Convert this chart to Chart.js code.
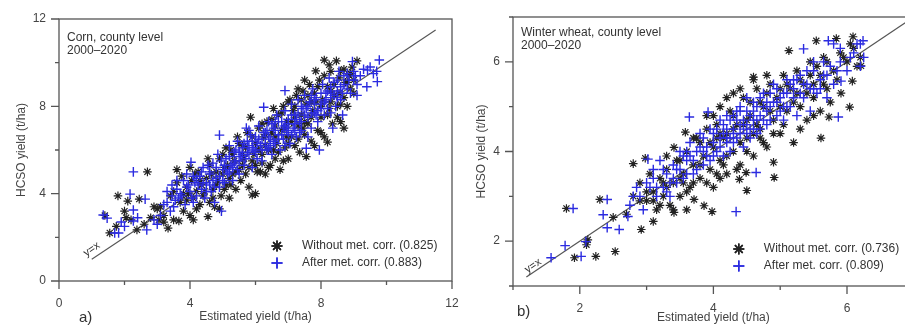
<!DOCTYPE html>
<html>
<head>
<meta charset="utf-8">
<script src="https://cdn.jsdelivr.net/npm/chart.js@4/dist/chart.umd.min.js"></script>
<style>
  html, body { margin: 0; padding: 0; background: #fff; overflow: hidden; }
  #wrap { position: relative; width: 905px; height: 325px; overflow: hidden; }
  canvas { position: absolute; top: 0; }
  #c1 { left: 0; }
  #c2 { left: 460px; }
</style>
</head>
<body>
<div id="wrap">
  <canvas id="c1" width="460" height="325"></canvas>
  <canvas id="c2" width="460" height="325"></canvas>
</div>
<script>
// ---- data (estimated yield, HCSO yield) in t/ha ----
const cornWithout = [
  [1.4,3.0],[1.55,2.2],[1.75,2.5],[1.8,3.9],[2.0,3.2],[2.05,2.9],[2.1,3.66],[2.2,2.8],[2.38,2.34],[2.45,3.75],
  [2.7,5.0],[2.8,2.9],[3.0,3.3],[3.05,2.8],[3.1,3.4],[3.2,2.7],[3.33,2.42],[3.4,3.9],[3.5,4.1],[3.6,5.1],
  [3.66,2.75],[3.6,4.5],[3.7,3.6],[3.75,4.8],[3.8,3.2],[3.9,4.3],[4.0,3.0],[4.05,4.6],[4.1,2.8],[4.1,3.8],
  [4.2,4.1],[4.25,5.0],[4.3,3.5],[4.35,4.4],[4.4,3.9],[4.5,4.7],[4.55,2.95],[4.6,3.6],[4.6,5.3],[4.7,4.2],
  [4.75,3.4],[4.8,5.0],[4.85,4.6],[4.9,5.6],[4.95,3.9],[5.0,4.9],[5.0,5.8],[5.1,4.4],[5.15,5.3],[5.2,3.8],
  [5.25,6.0],[5.3,4.9],[5.35,5.5],[5.4,4.2],[5.45,6.6],[5.5,5.1],[5.55,4.6],[5.6,6.2],[5.65,5.6],[5.7,4.9],
  [5.75,6.8],[5.8,4.3],[5.85,7.5],[5.9,3.94],[5.9,5.5],[6.0,6.3],[6.0,4.0],[6.05,5.0],[6.1,7.0],[6.2,5.8],
  [6.25,6.6],[6.3,4.9],[6.35,7.3],[6.4,6.0],[6.45,5.3],[6.5,6.8],[6.55,7.9],[6.6,5.6],[6.65,6.3],[6.7,7.6],
  [6.75,5.1],[6.8,6.9],[6.85,8.0],[6.9,6.1],[6.95,7.3],[7.0,5.6],[7.05,8.3],[7.1,6.6],[7.15,7.8],[7.2,6.2],
  [7.25,8.5],[7.3,7.1],[7.35,5.9],[7.4,7.6],[7.45,8.7],[7.5,6.7],[7.55,8.1],[7.6,7.2],[7.65,9.0],[7.7,6.4],
  [7.75,7.8],[7.8,8.6],[7.84,9.62],[7.9,6.9],[7.95,9.2],[8.0,7.5],[8.05,8.3],[8.1,10.12],[8.1,6.6],[8.2,6.36],
  [8.2,8.9],[8.25,7.9],[8.3,9.6],[8.35,7.2],[8.4,8.5],[8.47,10.08],[8.5,7.5],[8.55,9.3],[8.6,8.1],[8.7,9.7],
  [8.8,8.0],[8.86,9.44],[8.9,8.8],[9.0,9.2],[9.1,10.08],[9.0,8.6],
  [3.9,3.7],[4.0,5.2],[4.2,3.3],[4.3,4.6],[4.45,4.1],[4.55,5.6],[4.7,3.8],[4.8,4.4],[4.9,3.3],[5.05,5.2],
  [5.1,6.1],[5.2,4.7],[5.3,5.8],[5.4,5.0],[5.5,6.3],[5.6,5.3],[5.7,6.1],[5.8,5.2],[5.9,6.6],[6.0,5.3],
  [6.1,6.0],[6.15,5.0],[6.2,7.2],[6.3,6.2],[6.4,5.2],[6.5,7.4],[6.55,6.0],[6.6,7.1],[6.7,5.9],[6.8,7.7],
  [6.85,5.5],[6.9,7.0],[7.0,8.2],[7.0,6.3],[7.1,7.3],[7.2,8.0],[7.3,6.5],[7.4,8.3],[7.5,7.3],[7.55,5.7],
  [7.6,8.5],[7.7,7.5],[7.8,6.2],[7.85,8.2],[7.9,8.9],[8.0,6.8],[8.1,9.4],[8.2,7.6],[8.3,8.2],[8.4,9.0],
  [8.5,8.0],[8.6,9.6],[8.7,8.4],[8.8,9.1],[8.9,9.5],[8.6,7.3],[8.7,7.0],[7.5,9.2],[8.25,9.9],[3.2,3.0],
  [3.5,2.8],[3.8,4.0],[2.6,2.6],[2.9,3.4],
  [4.15,4.9],[4.65,4.9],[5.25,4.4],[5.6,5.8],[5.95,5.8],[6.3,6.7],[6.6,6.6],[6.95,6.6],[7.2,7.5],[7.45,7.0],
  [7.7,8.2],[8.0,8.0],[8.3,8.7],[8.55,8.6],[8.75,9.1],[8.95,9.8],[7.3,8.8],[6.2,5.4],[5.05,4.2],[3.95,4.0]
];
const cornAfter = [
  [1.35,3.02],[1.47,2.88],[1.7,2.2],[1.82,2.2],[1.9,2.7],[2.0,2.5],[2.17,3.98],[2.27,5.0],[2.27,3.25],[2.27,2.75],
  [2.4,2.9],[2.63,3.75],[2.68,2.34],[2.9,2.8],[3.0,2.6],[3.1,3.0],[3.2,3.5],[3.3,4.1],[3.4,3.2],[3.45,4.4],
  [3.55,3.7],[3.6,4.2],[3.7,4.0],[3.8,4.6],[3.85,3.5],[3.9,4.9],[4.0,4.1],[4.03,5.44],[4.1,3.6],[4.15,4.5],
  [4.2,3.9],[4.3,4.8],[4.35,4.2],[4.4,5.2],[4.45,3.8],[4.5,4.5],[4.6,4.9],[4.65,4.1],[4.7,5.4],[4.75,3.6],
  [4.8,4.7],[4.85,5.8],[4.9,6.68],[4.96,3.2],[5.0,5.1],[5.05,4.5],[5.1,5.6],[5.15,4.9],[5.2,6.2],[5.25,5.3],
  [5.3,4.6],[5.35,5.9],[5.4,5.5],[5.45,6.4],[5.5,4.9],[5.55,5.7],[5.6,6.1],[5.65,5.3],[5.72,7.0],[5.75,6.4],
  [5.8,5.8],[5.85,6.7],[5.9,5.2],[5.95,6.0],[6.0,6.6],[6.05,5.6],[6.1,7.1],[6.15,6.2],[6.2,5.5],[6.25,7.96],
  [6.3,6.8],[6.35,6.0],[6.4,7.3],[6.45,6.5],[6.5,5.8],[6.55,7.0],[6.6,6.3],[6.65,7.6],[6.7,6.7],[6.75,6.0],
  [6.8,7.3],[6.85,6.5],[6.9,8.72],[6.9,7.8],[6.95,6.9],[7.0,7.4],[7.05,6.3],[7.1,8.1],[7.15,7.0],[7.2,7.6],
  [7.25,6.6],[7.3,8.3],[7.35,7.3],[7.4,6.9],[7.45,7.9],[7.5,8.5],[7.55,6.08],[7.6,7.5],[7.65,8.2],[7.7,7.0],
  [7.75,8.8],[7.8,7.7],[7.85,8.4],[7.9,7.3],[7.95,6.0],[8.0,8.1],[8.05,9.0],[8.1,7.6],[8.15,8.6],[8.2,7.9],
  [8.25,9.3],[8.3,8.4],[8.36,7.0],[8.4,9.1],[8.45,8.0],[8.5,8.7],[8.55,9.6],[8.6,8.3],[8.66,7.6],[8.7,9.0],
  [8.8,9.5],[8.9,8.6],[8.96,10.05],[9.0,9.2],[9.1,8.5],[9.2,9.4],[9.4,8.9],[9.42,9.66],[9.6,9.5],[9.72,9.13],
  [9.78,10.12],[9.5,9.8],
  [3.3,3.6],[3.5,3.4],[3.6,4.6],[3.75,3.9],[3.9,4.3],[4.05,3.8],[4.1,4.8],[4.25,4.4],[4.35,5.0],[4.5,4.1],
  [4.55,5.3],[4.6,4.4],[4.7,4.6],[4.8,5.2],[4.9,4.3],[4.95,5.5],[5.0,4.6],[5.1,5.1],[5.2,5.7],[5.3,5.2],
  [5.4,6.0],[5.45,5.1],[5.5,5.5],[5.6,5.8],[5.7,5.6],[5.8,6.2],[5.9,6.4],[6.0,5.9],[6.1,6.5],[6.2,6.0],
  [6.25,6.8],[6.3,6.3],[6.4,6.6],[6.5,7.2],[6.55,6.4],[6.6,6.9],[6.7,7.3],[6.8,6.7],[6.9,7.1],[7.0,6.8],
  [7.1,7.6],[7.2,7.2],[7.3,7.7],[7.35,6.8],[7.4,8.0],[7.5,7.6],[7.6,8.0],[7.7,8.5],[7.8,8.1],[7.9,7.8],
  [8.0,8.6],[8.1,8.2],[8.2,8.7],[8.3,8.9],[8.4,8.5],[8.5,9.2],[8.6,8.9],[8.7,9.4],[8.8,8.8],[9.0,9.6],
  [9.1,9.0],[9.3,9.7],[9.7,9.6],[8.3,7.7],[7.6,6.6],[6.9,6.2],
  [3.95,4.4],[4.2,4.7],[4.4,4.5],[4.6,5.0],[4.75,4.3],[4.9,4.8],[5.05,5.3],[5.2,5.0],[5.35,5.4],[5.5,5.9],
  [5.65,6.3],[5.75,5.9],[5.9,6.1],[6.05,6.3],[6.2,6.5],[6.35,6.9],[6.45,6.2],[6.6,7.3],[6.7,6.5],[6.85,7.0],
  [7.0,7.2],[7.1,6.7],[7.25,7.4],[7.4,7.3],[7.55,7.9],[7.7,7.7],[7.85,7.6],[8.0,7.9],[8.15,8.3],[8.3,8.6],
  [8.5,8.4],[8.65,8.6],[8.85,9.2],[9.05,9.4],[3.65,3.8],[3.45,3.9],[5.8,6.9],[6.4,6.1],[7.2,6.9],[7.8,8.3]
];
const wheatWithout = [
  [1.8,2.73],[2.3,2.93],[2.5,2.53],[1.92,1.63],[2.1,1.92],[2.12,2.03],[2.24,1.66],[2.53,1.77],[2.8,3.73],[2.98,3.85],
  [2.92,2.26],[3.1,2.44],[5.13,6.25],[5.54,6.47],[5.84,6.52],[6.09,6.56],[6.21,5.91],[6.08,5.57],[6.04,4.99],[5.73,4.77],
  [5.61,4.3],[5.91,5.3],[4.9,3.76],[4.5,3.13],[4.91,3.42],[4.49,3.53],[4.39,3.38],[3.86,2.79],[3.98,2.66],[3.41,2.64],
  [3.71,2.93],[3.58,4.43],[3.41,4.09],[4.6,5.66],
  [2.7,2.6],[2.8,3.0],[2.9,3.3],[3.0,2.9],[3.05,3.5],[3.1,3.1],[3.15,2.7],[3.2,3.4],[3.25,3.0],[3.3,3.6],
  [3.35,2.8],[3.4,3.3],[3.45,3.8],[3.5,3.0],[3.55,3.5],[3.6,4.0],[3.65,3.2],[3.7,3.7],[3.75,4.3],[3.8,3.4],
  [3.85,3.9],[3.9,4.5],[3.95,3.6],[4.0,4.1],[4.0,3.2],[4.05,4.6],[4.1,3.8],[4.15,4.3],[4.2,3.5],[4.25,4.9],
  [4.3,4.0],[4.35,4.6],[4.4,3.7],[4.45,5.2],[4.5,4.3],[4.55,4.8],[4.6,3.9],[4.65,5.4],[4.7,4.5],[4.75,5.0],
  [4.8,4.1],[4.85,5.5],[4.9,4.7],[4.95,5.2],[5.0,4.4],[5.05,5.7],[5.1,4.9],[5.15,5.4],[5.2,4.2],[5.25,5.8],
  [5.3,5.0],[5.35,5.5],[5.4,4.7],[5.45,6.0],[5.5,5.2],[5.55,5.9],[5.6,4.9],[5.65,6.1],[5.7,5.4],[5.8,5.8],
  [5.9,6.2],[6.0,6.0],[6.1,6.3],[6.2,6.1],[4.1,5.0],[4.3,5.3],[3.9,4.8],[4.6,5.6],[4.2,4.4],[4.4,4.2],
  [3.0,3.1],[3.2,2.8],[3.3,3.2],[3.4,2.7],[3.5,3.4],[3.6,3.1],[3.7,3.3],[3.8,3.7],[3.9,3.3],[3.95,4.2],
  [4.05,3.5],[4.1,4.4],[4.2,3.9],[4.3,4.5],[4.35,3.6],[4.45,4.6],[4.5,4.0],[4.55,5.1],[4.6,4.4],[4.7,5.1],
  [4.75,4.2],[4.8,5.3],[4.9,4.4],[5.0,5.0],[5.05,4.6],[5.1,5.5],[5.2,5.1],[5.3,5.6],[5.4,5.3],[5.5,5.5],
  [5.6,5.7],[5.7,6.0],[5.75,5.1],[5.85,5.6],[5.95,6.1],[6.05,6.4],[6.15,5.9],[4.0,4.8],[4.2,5.2],[4.4,5.4],
  [4.8,5.7],[3.7,4.3],[3.5,3.8],[3.3,3.9],[3.1,2.9],[2.9,2.9],[3.6,2.7],[4.1,3.4],[5.3,4.5],[5.5,4.8],
  [3.8,4.2],[4.05,4.3],[4.3,4.8],[4.5,4.7],[4.65,4.6],[4.85,4.9],[5.0,5.4],[5.25,5.3],[5.45,5.7],[5.65,5.5],
  [3.55,3.3],[3.25,3.3],[4.15,3.7],[4.7,4.3]
];
const wheatAfter = [
  [1.9,2.73],[2.41,2.93],[1.57,1.63],[1.78,1.9],[2.09,1.99],[2.02,1.66],[2.35,2.59],[2.41,2.3],[2.59,2.26],[2.8,3.0],
  [2.72,2.55],[4.34,2.66],[5.87,4.77],[5.91,5.57],[6.24,6.47],[5.72,6.47],[5.35,6.29],[4.64,3.53],[3.64,4.77],[3.02,3.83],
  [3.92,4.88],
  [2.75,2.8],[2.85,3.2],[2.95,2.7],[3.0,3.3],[3.1,3.6],[3.15,3.0],[3.2,3.8],[3.25,3.2],[3.3,3.5],[3.35,3.0],
  [3.4,3.7],[3.45,3.3],[3.5,4.0],[3.55,3.4],[3.6,3.8],[3.65,4.2],[3.7,3.5],[3.75,4.0],[3.8,4.4],[3.85,3.7],
  [3.9,4.1],[3.95,3.8],[4.0,4.4],[4.05,4.0],[4.1,4.7],[4.15,3.9],[4.2,4.3],[4.25,4.0],[4.3,4.8],[4.35,4.3],
  [4.4,4.6],[4.45,4.1],[4.5,4.9],[4.55,4.5],[4.6,5.1],[4.65,4.4],[4.7,4.8],[4.75,5.3],[4.8,4.6],[4.85,5.0],
  [4.9,5.5],[4.95,4.8],[5.0,5.2],[5.05,4.7],[5.1,5.6],[5.15,5.0],[5.2,5.4],[5.25,4.8],[5.3,5.7],[5.35,5.2],
  [5.4,5.5],[5.45,4.9],[5.5,5.8],[5.55,5.3],[5.6,5.6],[5.65,6.0],[5.7,5.2],[5.75,5.9],[5.8,6.4],[5.9,6.0],
  [6.0,5.8],[6.1,6.2],[6.2,6.4],[6.2,5.9],[4.3,4.5],[4.5,4.6],[4.4,4.4],[4.6,4.7],[4.2,4.2],[4.7,4.5],
  [4.5,5.2],[4.1,4.3],
  [2.9,3.0],[3.05,3.2],[3.1,3.4],[3.25,3.6],[3.3,3.1],[3.4,3.4],[3.5,3.6],[3.55,3.9],[3.6,3.5],[3.7,3.8],
  [3.75,3.6],[3.8,4.1],[3.85,4.3],[3.9,3.9],[4.0,4.2],[4.05,4.5],[4.1,4.1],[4.15,4.6],[4.2,4.5],[4.25,4.7],
  [4.3,4.2],[4.35,4.7],[4.4,4.9],[4.45,4.5],[4.5,4.4],[4.55,4.8],[4.6,4.5],[4.65,5.0],[4.7,5.2],[4.75,4.7],
  [4.8,4.9],[4.85,5.3],[4.9,5.1],[4.95,5.4],[5.0,4.9],[5.05,5.3],[5.1,5.0],[5.15,5.5],[5.2,5.2],[5.25,5.6],
  [5.3,5.3],[5.4,5.8],[5.45,5.4],[5.5,6.0],[5.6,5.4],[5.7,5.7],[5.8,5.5],[5.9,6.3],[6.05,6.1],[6.15,6.4],
  [6.25,6.1],[4.4,5.0],[4.2,4.8],[3.95,4.5],[3.6,4.0],[3.45,3.6],
  [3.65,3.9],[3.85,4.0],[4.0,3.9],[4.15,4.4],[4.3,4.4],[4.45,4.7],[4.55,4.3],[4.65,4.7],[4.75,5.0],[4.85,4.7],
  [4.95,5.1],[5.05,5.0],[5.2,5.6],[5.35,5.5],[5.5,5.4],[5.65,5.7],[5.85,5.8],[4.35,4.9],[4.6,4.9],[4.8,5.1],
  [3.35,3.3],[3.15,3.2],[5.1,5.3],[4.25,4.3]
];

const cornLine = [1, 11.5];      // y=x segment ends
const wheatLine = [1.2, 6.9];
const cornLabels = ['Without met. corr. (0.825)', 'After met. corr. (0.883)'];
const wheatLabels = ['Without met. corr. (0.736)', 'After met. corr. (0.809)'];
const cornNote = ['Corn, county level', '2000\u20132020'];
const wheatNote = ['Winter wheat, county level', '2000\u20132020'];
const cornMajor = [0, 4, 8, 12];
const wheatMajor = [2, 4, 6];

const FONT = '"Liberation Sans", Arial, sans-serif';
const TXT = '#444';
const BLUE = '#2b2be0';
const BLACK = '#222';

// frame, outward ticks, notes, y=x label and inside legend
const decorPlugin = {
  id: 'decor',
  afterDraw(chart, args, o) {
    const { ctx, chartArea: a, scales: { x, y } } = chart;
    ctx.save();
    ctx.strokeStyle = '#555';
    ctx.lineWidth = 1.3;
    ctx.strokeRect(a.left, a.top, a.right - a.left, a.bottom - a.top);
    ctx.beginPath();
    x.ticks.forEach(t => {
      const px = x.getPixelForValue(t.value);
      const len = o.major.includes(t.value) ? 8 : 4;
      ctx.moveTo(px, a.bottom);
      ctx.lineTo(px, a.bottom + len);
    });
    y.ticks.forEach(t => {
      const py = y.getPixelForValue(t.value);
      const len = o.major.includes(t.value) ? 8 : 4;
      ctx.moveTo(a.left, py);
      ctx.lineTo(a.left - len, py);
    });
    ctx.stroke();

    // note top-left
    ctx.fillStyle = '#333';
    ctx.font = '12px ' + FONT;
    ctx.textBaseline = 'middle';
    ctx.textAlign = 'left';
    o.note.forEach((s, i) => ctx.fillText(s, a.left + 8, a.top + o.noteTop + i * 13));

    // y=x label rotated along the line
    const ang = Math.atan2(y.getPixelForValue(2) - y.getPixelForValue(1),
                           x.getPixelForValue(2) - x.getPixelForValue(1));
    ctx.save();
    ctx.translate(x.getPixelForValue(o.yxPos[0]), y.getPixelForValue(o.yxPos[1]));
    ctx.rotate(ang);
    ctx.textAlign = 'center';
    ctx.font = '11px ' + FONT;
    ctx.fillText('y=x', 0, 0);
    ctx.restore();

    // legend: "without" first, "after" second
    const lx = a.right - 175;
    const rows = [a.bottom - o.legBottom, a.bottom - o.legBottom + 17];
    const sets = [chart.data.datasets[1], chart.data.datasets[0]];
    sets.forEach((d, i) => {
      ctx.strokeStyle = d.borderColor;
      ctx.lineWidth = 1.5;
      ctx.beginPath();
      Chart.helpers.drawPoint(ctx, { pointStyle: d.pointStyle, radius: 5.5, rotation: 0, borderWidth: 1.5 }, lx, rows[i]);
      ctx.stroke();
      ctx.fillStyle = '#333';
      ctx.font = '12px ' + FONT;
      ctx.textAlign = 'left';
      ctx.fillText(d.label, lx + 25, rows[i]);
    });

    // panel letter
    ctx.font = '15px ' + FONT;
    ctx.fillStyle = '#333';
    ctx.fillText(o.letter, o.letterPos[0], o.letterPos[1]);
    ctx.restore();
  }
};

function makeChart(id, opt) {
  const pts = arr => arr.map(p => ({ x: p[0], y: p[1] }));
  return new Chart(document.getElementById(id), {
    type: 'scatter',
    data: {
      datasets: [
        {
          label: opt.labels[1],
          data: pts(opt.after),
          pointStyle: 'cross',
          radius: 4.8,
          borderColor: BLUE,
          backgroundColor: BLUE,
          borderWidth: 1.4,
          order: 0
        },
        {
          label: opt.labels[0],
          data: pts(opt.without),
          pointStyle: 'star',
          radius: 4.3,
          borderColor: BLACK,
          backgroundColor: BLACK,
          borderWidth: 1.2,
          order: 1
        },
        {
          type: 'line',
          data: pts([[opt.line[0], opt.line[0]], [opt.line[1], opt.line[1]]]),
          borderColor: '#555',
          borderWidth: 1.2,
          pointRadius: 0,
          order: 2
        }
      ]
    },
    options: {
      responsive: false,
      animation: false,
      layout: { padding: opt.padding },
      plugins: {
        legend: { display: false },
        tooltip: { enabled: false },
        decor: {
          major: opt.major,
          note: opt.note,
          noteTop: opt.noteTop,
          yxPos: opt.yxPos,
          legBottom: opt.legBottom,
          letter: opt.letter,
          letterPos: opt.letterPos
        }
      },
      scales: {
        x: {
          type: 'linear',
          min: opt.range[0], max: opt.range[1],
          grid: { display: false, drawTicks: false },
          border: { display: false },
          afterFit: s => { s.height = opt.xh; s.paddingLeft = 0; s.paddingRight = 0; },
          ticks: {
            stepSize: opt.step,
            autoSkip: false,
            maxRotation: 0,
            padding: 15,
            color: TXT,
            font: { family: FONT, size: 12 },
            callback: v => opt.major.includes(v) ? String(v) : ''
          },
          title: {
            display: true,
            text: 'Estimated yield (t/ha)',
            color: TXT,
            font: { family: FONT, size: 12 },
            padding: { top: 0, bottom: opt.xTitlePad }
          }
        },
        y: {
          type: 'linear',
          min: opt.range[0], max: opt.range[1],
          grid: { display: false, drawTicks: false },
          border: { display: false },
          afterFit: s => { s.width = opt.yw; s.paddingTop = 0; s.paddingBottom = 0; },
          ticks: {
            stepSize: opt.step,
            autoSkip: false,
            padding: 13,
            color: TXT,
            font: { family: FONT, size: 12 },
            callback: v => opt.major.includes(v) ? String(v) : ''
          },
          title: {
            display: true,
            text: 'HCSO yield (t/ha)',
            color: TXT,
            font: { family: FONT, size: 12 },
            padding: { top: 14, bottom: 14 }
          }
        }
      }
    },
    plugins: [decorPlugin]
  });
}

makeChart('c1', {
  without: cornWithout, after: cornAfter, line: cornLine, labels: cornLabels,
  note: cornNote, major: cornMajor, range: [0, 12], step: 2,
  padding: { left: 0, top: 19, right: 8, bottom: 0 },
  xh: 44, yw: 59, xTitlePad: 1, noteTop: 19, yxPos: [1.0, 1.45], legBottom: 35,
  letter: 'a)', letterPos: [79, 318]
});

makeChart('c2', {
  without: wheatWithout, after: wheatAfter, line: wheatLine, labels: wheatLabels,
  note: wheatNote, major: wheatMajor, range: [1, 7], step: 1,
  padding: { left: 0, top: 17, right: 6, bottom: 0 },
  xh: 39, yw: 53, xTitlePad: 0, noteTop: 16, yxPos: [1.3, 1.45], legBottom: 37,
  letter: 'b)', letterPos: [57, 312]
});
</script>
</body>
</html>
